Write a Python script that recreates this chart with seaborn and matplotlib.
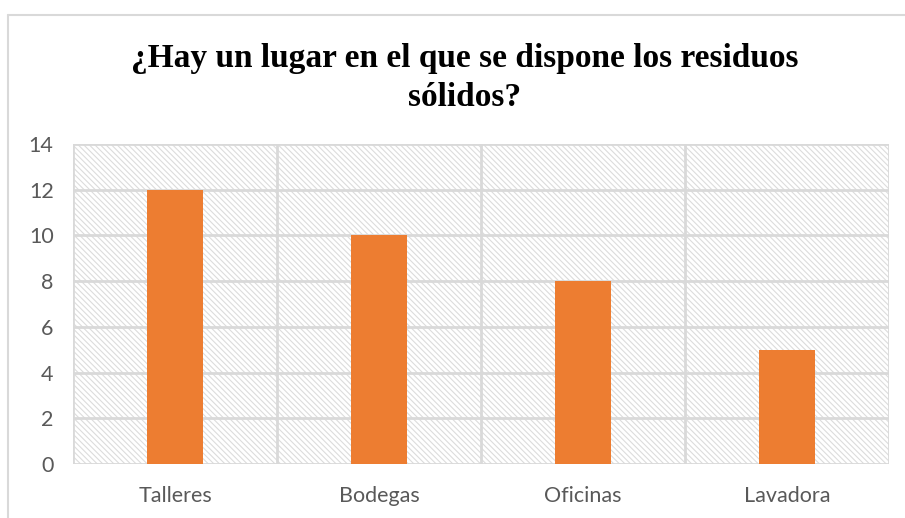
import matplotlib
matplotlib.use("Agg")
import matplotlib.pyplot as plt
import seaborn as sns
import pandas as pd
from matplotlib.patches import Rectangle

categories = ["Talleres", "Bodegas", "Oficinas", "Lavadora"]
values = [12, 10, 8, 5]
yticks = [0, 2, 4, 6, 8, 10, 12, 14]
title = "¿Hay un lugar en el que se dispone los residuos\nsólidos?"

sns.set_style("white")
plt.rcParams["font.family"] = ["Lato", "DejaVu Sans"]
plt.rcParams["hatch.color"] = "#dcdcdc"
plt.rcParams["hatch.linewidth"] = 0.8

df = pd.DataFrame({"cat": categories, "val": values})

fig = plt.figure(figsize=(9.05, 5.18), dpi=100)
fig.patch.set_facecolor("white")
# outer chart border (light grey)
fig.add_artist(plt.Line2D([8/905, 8/905], [0, 1 - 15/518], color="#d9d9d9", lw=1.5, transform=fig.transFigure))
fig.add_artist(plt.Line2D([8/905, 1], [1 - 15/518, 1 - 15/518], color="#d9d9d9", lw=1.5, transform=fig.transFigure))

ax = fig.add_axes([73/905, 1 - 464/518, (889 - 73)/905, (464 - 144)/518])

# hatched background
ax.add_patch(Rectangle((0, 0), 1, 1, transform=ax.transAxes, facecolor="white",
                       edgecolor="#dcdcdc", hatch="\\" * 6, lw=0, zorder=0))

sns.barplot(data=df, x="cat", y="val", color="#ED7D31", width=0.27,
            saturation=1, ax=ax, zorder=3, edgecolor="none", linewidth=0)

ax.set_ylim(0, 14)
ax.set_xlim(-0.5, len(categories) - 0.5)
ax.set_yticks(yticks)
for y in yticks:
    ax.axhline(y, color="#d9d9d9", lw=2, zorder=1)
for i in range(len(categories) + 1):
    ax.axvline(i - 0.5, color="#d9d9d9", lw=2, zorder=1)

for s in ax.spines.values():
    s.set_visible(False)
ax.set_xlabel("")
ax.set_ylabel("")
ax.tick_params(axis="both", length=0, labelsize=15.5, colors="#595959")
ax.tick_params(axis="x", pad=16)
ax.tick_params(axis="y", pad=14)

fig.text(465/905, 1 - 78/518, title, ha="center", va="center",
         fontsize=24, fontweight="bold", family=["Liberation Serif", "DejaVu Serif"],
         linespacing=1.3, color="black")

fig.savefig("out.png", dpi=100)
